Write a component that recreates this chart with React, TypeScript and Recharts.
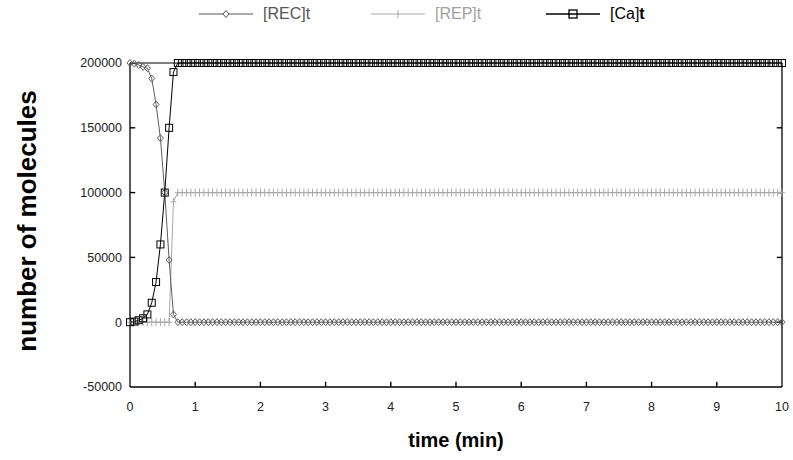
import { Label, Line, LineChart, ReferenceLine, XAxis, YAxis } from "recharts";

// sample times in seconds (solver output every 4 s, 0..10 min)
const TIME_S = [
  0, 4, 8, 12, 16, 20, 24, 28, 32, 36, 40, 44, 48, 52, 56,
  60, 64, 68, 72, 76, 80, 84, 88, 92, 96, 100, 104, 108, 112, 116,
  120, 124, 128, 132, 136, 140, 144, 148, 152, 156, 160, 164, 168, 172, 176,
  180, 184, 188, 192, 196, 200, 204, 208, 212, 216, 220, 224, 228, 232, 236,
  240, 244, 248, 252, 256, 260, 264, 268, 272, 276, 280, 284, 288, 292, 296,
  300, 304, 308, 312, 316, 320, 324, 328, 332, 336, 340, 344, 348, 352, 356,
  360, 364, 368, 372, 376, 380, 384, 388, 392, 396, 400, 404, 408, 412, 416,
  420, 424, 428, 432, 436, 440, 444, 448, 452, 456, 460, 464, 468, 472, 476,
  480, 484, 488, 492, 496, 500, 504, 508, 512, 516, 520, 524, 528, 532, 536,
  540, 544, 548, 552, 556, 560, 564, 568, 572, 576, 580, 584, 588, 592, 596,
  600,
];

const REC = [
  200000, 199500, 198500, 197000, 196000, 188000, 168000, 142000, 100000, 48000, 6000, 0, 0, 0, 0,
  0, 0, 0, 0, 0, 0, 0, 0, 0, 0, 0, 0, 0, 0, 0,
  0, 0, 0, 0, 0, 0, 0, 0, 0, 0, 0, 0, 0, 0, 0,
  0, 0, 0, 0, 0, 0, 0, 0, 0, 0, 0, 0, 0, 0, 0,
  0, 0, 0, 0, 0, 0, 0, 0, 0, 0, 0, 0, 0, 0, 0,
  0, 0, 0, 0, 0, 0, 0, 0, 0, 0, 0, 0, 0, 0, 0,
  0, 0, 0, 0, 0, 0, 0, 0, 0, 0, 0, 0, 0, 0, 0,
  0, 0, 0, 0, 0, 0, 0, 0, 0, 0, 0, 0, 0, 0, 0,
  0, 0, 0, 0, 0, 0, 0, 0, 0, 0, 0, 0, 0, 0, 0,
  0, 0, 0, 0, 0, 0, 0, 0, 0, 0, 0, 0, 0, 0, 0,
  0,
];

const REP = [
  0, 0, 0, 0, 0, 0, 0, 0, 0, 0, 93000, 100000, 100000, 100000, 100000,
  100000, 100000, 100000, 100000, 100000, 100000, 100000, 100000, 100000, 100000, 100000, 100000, 100000, 100000, 100000,
  100000, 100000, 100000, 100000, 100000, 100000, 100000, 100000, 100000, 100000, 100000, 100000, 100000, 100000, 100000,
  100000, 100000, 100000, 100000, 100000, 100000, 100000, 100000, 100000, 100000, 100000, 100000, 100000, 100000, 100000,
  100000, 100000, 100000, 100000, 100000, 100000, 100000, 100000, 100000, 100000, 100000, 100000, 100000, 100000, 100000,
  100000, 100000, 100000, 100000, 100000, 100000, 100000, 100000, 100000, 100000, 100000, 100000, 100000, 100000, 100000,
  100000, 100000, 100000, 100000, 100000, 100000, 100000, 100000, 100000, 100000, 100000, 100000, 100000, 100000, 100000,
  100000, 100000, 100000, 100000, 100000, 100000, 100000, 100000, 100000, 100000, 100000, 100000, 100000, 100000, 100000,
  100000, 100000, 100000, 100000, 100000, 100000, 100000, 100000, 100000, 100000, 100000, 100000, 100000, 100000, 100000,
  100000, 100000, 100000, 100000, 100000, 100000, 100000, 100000, 100000, 100000, 100000, 100000, 100000, 100000, 100000,
  100000,
];

const CA = [
  0, 500, 1500, 3000, 6000, 15000, 31000, 60000, 100000, 150000, 193000, 200000, 200000, 200000, 200000,
  200000, 200000, 200000, 200000, 200000, 200000, 200000, 200000, 200000, 200000, 200000, 200000, 200000, 200000, 200000,
  200000, 200000, 200000, 200000, 200000, 200000, 200000, 200000, 200000, 200000, 200000, 200000, 200000, 200000, 200000,
  200000, 200000, 200000, 200000, 200000, 200000, 200000, 200000, 200000, 200000, 200000, 200000, 200000, 200000, 200000,
  200000, 200000, 200000, 200000, 200000, 200000, 200000, 200000, 200000, 200000, 200000, 200000, 200000, 200000, 200000,
  200000, 200000, 200000, 200000, 200000, 200000, 200000, 200000, 200000, 200000, 200000, 200000, 200000, 200000, 200000,
  200000, 200000, 200000, 200000, 200000, 200000, 200000, 200000, 200000, 200000, 200000, 200000, 200000, 200000, 200000,
  200000, 200000, 200000, 200000, 200000, 200000, 200000, 200000, 200000, 200000, 200000, 200000, 200000, 200000, 200000,
  200000, 200000, 200000, 200000, 200000, 200000, 200000, 200000, 200000, 200000, 200000, 200000, 200000, 200000, 200000,
  200000, 200000, 200000, 200000, 200000, 200000, 200000, 200000, 200000, 200000, 200000, 200000, 200000, 200000, 200000,
  200000,
];

const X_TICKS = [0, 1, 2, 3, 4, 5, 6, 7, 8, 9, 10];
const Y_TICKS = [-50000, 0, 50000, 100000, 150000, 200000];
const X_MIN = 0;
const X_MAX = 10;
const Y_MIN = -50000;
const Y_MAX = 200000;
// inward tick length expressed in axis units (about 5px each way)
const TICK_DX = 0.08;
const TICK_DY = 4000;

const FONT = "'Liberation Sans', Arial, sans-serif";
const REC_COLOR = "#5e5e5e";
const REP_COLOR = "#a8a8a8";
const CA_COLOR = "#000";

const rows = TIME_S.map((s, i) => ({ t: s / 60, rec: REC[i], rep: REP[i], ca: CA[i] }));

function DiamondDot(props: any) {
  const { cx, cy, index } = props;
  if (cx == null || cy == null) return <g key={`d${index}`} />;
  return (
    <path
      key={`d${index}`}
      d={`M${cx},${cy - 3.5}L${cx + 3},${cy}L${cx},${cy + 3.5}L${cx - 3},${cy}Z`}
      fill="none"
      stroke={REC_COLOR}
      strokeWidth={1}
    />
  );
}

function PlusDot(props: any) {
  const { cx, cy, index } = props;
  if (cx == null || cy == null) return <g key={`p${index}`} />;
  return (
    <path
      key={`p${index}`}
      d={`M${cx},${cy - 4}V${cy + 4}M${cx - 3},${cy}H${cx + 3}`}
      stroke={REP_COLOR}
      strokeWidth={1}
    />
  );
}

function SquareDot(props: any) {
  const { cx, cy, index } = props;
  if (cx == null || cy == null) return <g key={`s${index}`} />;
  return <rect key={`s${index}`} x={cx - 3.5} y={cy - 3.5} width={7} height={7} fill="none" stroke={CA_COLOR} strokeWidth={1} />;
}

function LegendItem({ left, color, textColor, marker, children }: { left: number; color: string; textColor: string; marker: string; children: any }) {
  return (
    <div style={{ position: "absolute", left, top: 5, display: "flex", alignItems: "center", gap: 10 }}>
      <svg width={54} height={16}>
        <line x1={0} y1={8} x2={54} y2={8} stroke={color} strokeWidth={marker === "square" ? 1.4 : 1} />
        {marker === "diamond" && <path d="M27,4.5L30,8L27,11.5L24,8Z" fill="#fff" stroke={color} />}
        {marker === "plus" && <path d="M27,4V12" stroke={color} />}
        {marker === "square" && <rect x={23} y={4} width={8} height={8} fill="none" stroke={color} strokeWidth={1.3} />}
      </svg>
      <span style={{ fontFamily: FONT, fontSize: 16, color: textColor }}>{children}</span>
    </div>
  );
}

export default function App() {
  const tickStyle = { fill: "#222", fontSize: 12.5, fontFamily: FONT };
  const innerX = X_TICKS.slice(1, -1);
  const innerY = Y_TICKS.slice(1, -1);
  return (
    <div style={{ position: "relative", width: 793, height: 460, background: "#fff" }}>
      <style>{"body{margin:0}"}</style>
      <LegendItem left={199} color={"#555"} textColor={"#555"} marker="diamond">[REC]t</LegendItem>
      <LegendItem left={371} color={REP_COLOR} textColor={"#a0a0a0"} marker="plus">[REP]t</LegendItem>
      <LegendItem left={546} color={CA_COLOR} textColor={"#000"} marker="square">
        [Ca]<b>t</b>
      </LegendItem>
      <LineChart width={793} height={460} data={rows} margin={{ top: 62, right: 10, bottom: 0, left: 0 }}>
        <XAxis
          xAxisId="b"
          dataKey="t"
          type="number"
          domain={[X_MIN, X_MAX]}
          ticks={X_TICKS}
          interval={0}
          height={73}
          tickSize={0}
          tickLine={false}
          tickMargin={15}
          stroke="#000"
          strokeWidth={1.3}
          tick={tickStyle}
        >
          <Label
            content={(p: any) => {
              const vb = p.viewBox;
              return (
                <text x={vb.x + vb.width / 2} y={447} textAnchor="middle" fontFamily={FONT} fontWeight="bold" fontSize={20} fill="#000">
                  time (min)
                </text>
              );
            }}
          />
        </XAxis>
        <XAxis xAxisId="top" orientation="top" dataKey="t" type="number" domain={[X_MIN, X_MAX]} height={1} tick={false} tickLine={false} stroke="#000" />
        <YAxis
          yAxisId="l"
          type="number"
          domain={[Y_MIN, Y_MAX]}
          ticks={Y_TICKS}
          interval={0}
          width={130}
          tickSize={0}
          tickLine={false}
          tickMargin={8}
          stroke="#000"
          strokeWidth={1.3}
          tick={tickStyle}
        >
          <Label
            content={(p: any) => {
              const vb = p.viewBox;
              const cy = vb.y + vb.height / 2 - 4;
              return (
                <text
                  x={27}
                  y={cy}
                  transform={`rotate(-90 27 ${cy})`}
                  textAnchor="middle"
                  dominantBaseline="central"
                  fontFamily={FONT}
                  fontWeight="bold"
                  fontSize={26}
                  fill="#000"
                >
                  number of molecules
                </text>
              );
            }}
          />
        </YAxis>
        <YAxis
          yAxisId="r"
          orientation="right"
          type="number"
          domain={[Y_MIN, Y_MAX]}
          ticks={Y_TICKS}
          width={1}
          tick={false}
          tickLine={false}
          stroke="#000"
          strokeWidth={1.3}
        />
        {/* inward frame ticks */}
        {innerX.map((v) => (
          <ReferenceLine
            key={`bx${v}`}
            xAxisId="b"
            yAxisId="l"
            segment={[{ x: v, y: Y_MIN }, { x: v, y: Y_MIN + TICK_DY }]}
            stroke="#000"
            strokeWidth={1.4}
          />
        ))}
        {innerY.map((v) => (
          <ReferenceLine
            key={`ly${v}`}
            xAxisId="b"
            yAxisId="l"
            segment={[{ x: X_MIN, y: v }, { x: X_MIN + TICK_DX, y: v }]}
            stroke="#000"
            strokeWidth={1.4}
          />
        ))}
        {innerY.map((v) => (
          <ReferenceLine
            key={`ry${v}`}
            xAxisId="b"
            yAxisId="l"
            segment={[{ x: X_MAX - TICK_DX, y: v }, { x: X_MAX, y: v }]}
            stroke="#000"
            strokeWidth={1.4}
          />
        ))}
        <Line xAxisId="b" yAxisId="l" dataKey="rep" stroke={REP_COLOR} strokeWidth={1} dot={PlusDot} isAnimationActive={false} />
        <Line xAxisId="b" yAxisId="l" dataKey="rec" stroke={REC_COLOR} strokeWidth={1} dot={DiamondDot} isAnimationActive={false} />
        <Line xAxisId="b" yAxisId="l" dataKey="ca" stroke={CA_COLOR} strokeWidth={1} dot={SquareDot} isAnimationActive={false} />
      </LineChart>
    </div>
  );
}
